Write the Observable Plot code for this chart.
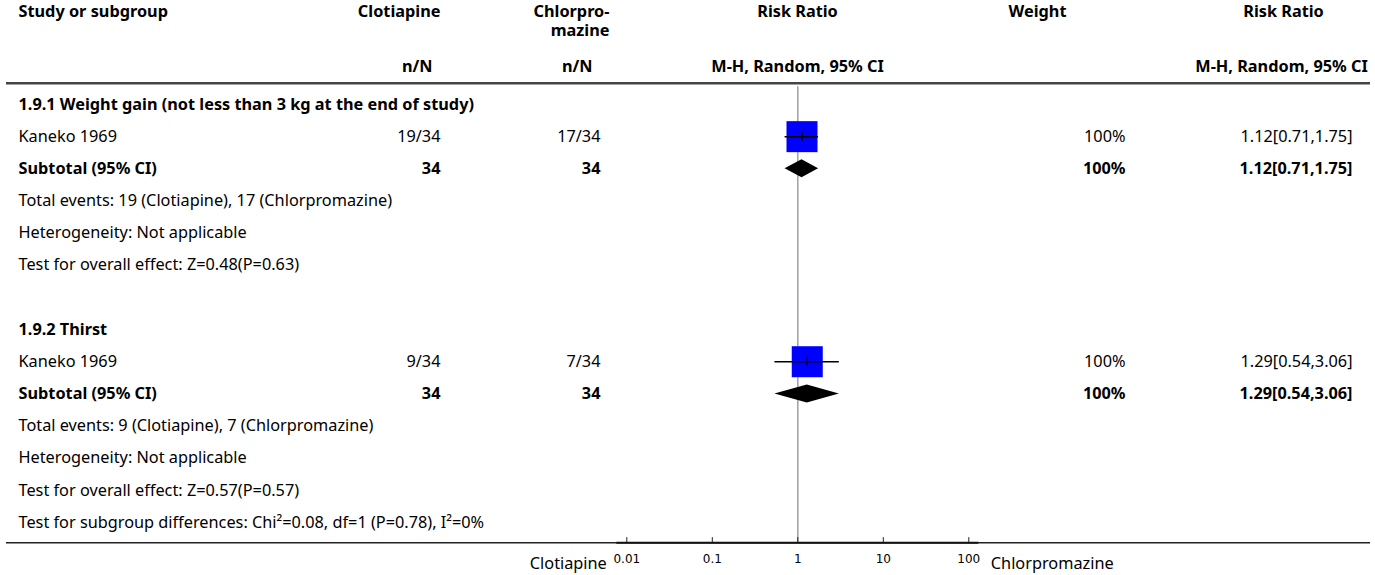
<!DOCTYPE html>
<html><head><meta charset="utf-8">
<script src="https://cdn.jsdelivr.net/npm/d3@7"></script>
<script src="https://cdn.jsdelivr.net/npm/@observablehq/plot@0.6"></script>
<style>
html,body{margin:0;padding:0;background:#fff;}
#chart{position:relative;width:1375px;height:575px;}
#chart svg{position:absolute;left:0;top:0;background:transparent;}
</style></head><body><div id="chart"></div>
<script>
// ---------- data ----------
const expName = "Clotiapine";
const ctrlName = "Chlorpromazine";
const ctrlHeader = ["Chlorpro-", "mazine"];
const subgroupTitles = ["1.9.1 Weight gain (not less than 3 kg at the end of study)", "1.9.2 Thirst"];
const studyNames = ["Kaneko 1969", "Kaneko 1969"];
const expEvents = [19, 9];
const expTotals = [34, 34];
const ctrlEvents = [17, 7];
const ctrlTotals = [34, 34];
const studyRR = [1.12, 1.29];
const studyLo = [0.71, 0.54];
const studyHi = [1.75, 3.06];
const studyWeight = [100, 100];
const subRR = [1.12, 1.29];
const subLo = [0.71, 0.54];
const subHi = [1.75, 3.06];
const subWeight = [100, 100];
const heterogeneity = ["Not applicable", "Not applicable"];
const overallZ = ["0.48", "0.57"];
const overallP = ["0.63", "0.57"];
const subgroupTest = "Test for subgroup differences: Chi\u00B2=0.08, df=1 (P=0.78), I\u00B2=0%";
const axisTicks = [0.01, 0.1, 1, 10, 100];

// ---------- layout ----------
const W = 1375, H = 575;
const FONT = "'Noto Sans', sans-serif";
const FS = 16.3;
const colX = {study: 18, exp: 440, ctrl: 600, weight: 1125, rr: 1352};
const L = {title: -2.88, title2: -2.28, sub: -1.16, headerLine: -0.66, ruleTop: -0.55, bottomLine: 13.63, tickLabel: 13.63 + 0.5, sideLabel: 13.63 + 0.64};
const yScale = {domain: [0, 13], range: [104, 522], axis: null};
const xForest = {type: "log", domain: [0.01, 100], range: [626.3, 968.3]};

const fmtRR = (e, l, h) => `${e.toFixed(2)}[${l.toFixed(2)},${h.toFixed(2)}]`;

// ---------- build table rows ----------
const cells = [];
const studies = [];
const diamonds = [];
let r = 0;
subgroupTitles.forEach((title, g) => {
  if (g > 0) r++; // blank spacer row
  cells.push({row: r, col: "study", text: title, bold: true}); r++;
  cells.push({row: r, col: "study", text: studyNames[g]});
  cells.push({row: r, col: "exp", text: `${expEvents[g]}/${expTotals[g]}`});
  cells.push({row: r, col: "ctrl", text: `${ctrlEvents[g]}/${ctrlTotals[g]}`});
  cells.push({row: r, col: "weight", text: `${studyWeight[g]}%`});
  cells.push({row: r, col: "rr", text: fmtRR(studyRR[g], studyLo[g], studyHi[g])});
  studies.push({row: r, rr: studyRR[g], lo: studyLo[g], hi: studyHi[g], w: studyWeight[g]});
  r++;
  cells.push({row: r, col: "study", text: "Subtotal (95% CI)", bold: true});
  cells.push({row: r, col: "exp", text: `${expTotals[g]}`, bold: true});
  cells.push({row: r, col: "ctrl", text: `${ctrlTotals[g]}`, bold: true});
  cells.push({row: r, col: "weight", text: `${subWeight[g]}%`, bold: true});
  cells.push({row: r, col: "rr", text: fmtRR(subRR[g], subLo[g], subHi[g]), bold: true});
  diamonds.push({g, x: subLo[g], y1: r, y2: r});
  diamonds.push({g, x: subRR[g], y1: r - 0.28, y2: r + 0.28});
  diamonds.push({g, x: subHi[g], y1: r, y2: r});
  r++;
  cells.push({row: r, col: "study", text: `Total events: ${expEvents[g]} (${expName}), ${ctrlEvents[g]} (${ctrlName})`}); r++;
  cells.push({row: r, col: "study", text: `Heterogeneity: ${heterogeneity[g]}`}); r++;
  cells.push({row: r, col: "study", text: `Test for overall effect: Z=${overallZ[g]}(P=${overallP[g]})`}); r++;
});
cells.push({row: r, col: "study", text: subgroupTest});
cells.forEach(c => { c.x = colX[c.col]; c.anchor = c.col === "study" ? "start" : "end"; });

const headers = [
  {x: colX.study, row: L.title, text: "Study or subgroup", anchor: "start"},
  {x: colX.exp, row: L.title, text: expName, anchor: "end"},
  {x: 609, row: L.title, text: ctrlHeader[0], anchor: "end"},
  {x: 609, row: L.title2, text: ctrlHeader[1], anchor: "end"},
  {x: 432, row: L.sub, text: "n/N", anchor: "end"},
  {x: 592, row: L.sub, text: "n/N", anchor: "end"},
  {x: 797, row: L.title, text: "Risk Ratio", anchor: "middle"},
  {x: 797, row: L.sub, text: "M-H, Random, 95% CI", anchor: "middle"},
  {x: 1037, row: L.title, text: "Weight", anchor: "middle"},
  {x: 1283, row: L.title, text: "Risk Ratio", anchor: "middle"},
  {x: 1281, row: L.sub, text: "M-H, Random, 95% CI", anchor: "middle"}
];

// ---------- table layer ----------
const textMarks = [];
for (const anchor of ["start", "middle", "end"]) {
  for (const bold of [false, true]) {
    const data = cells.filter(d => d.anchor === anchor && !!d.bold === bold);
    if (data.length) textMarks.push(Plot.text(data, {x: "x", y: "row", text: "text", textAnchor: anchor, fontWeight: bold ? "bold" : "normal", fontFamily: FONT, fontSize: FS, fill: "#000"}));
  }
  const hd = headers.filter(d => d.anchor === anchor);
  if (hd.length) textMarks.push(Plot.text(hd, {x: "x", y: "row", text: "text", textAnchor: anchor, fontWeight: "bold", fontFamily: FONT, fontSize: FS, fill: "#000"}));
}

const table = Plot.plot({
  width: W, height: H, margin: 0,
  x: {domain: [0, W], range: [0, W], axis: null},
  y: yScale,
  style: {background: "transparent", overflow: "visible"},
  marks: [
    Plot.ruleY([L.headerLine], {x1: 6, x2: 1370, stroke: "#444", strokeWidth: 2.5}),
    Plot.ruleY([L.bottomLine], {x1: 6, x2: 1370, stroke: "#222", strokeWidth: 1.5}),
    ...textMarks
  ]
});

// ---------- forest layer ----------
const forest = Plot.plot({
  width: W, height: H,
  marginTop: 0, marginLeft: 0, marginRight: 0, marginBottom: 33,
  x: {...xForest, axis: null},
  y: yScale,
  r: {domain: [0, 100], range: [0, 17.5]},
  style: {background: "transparent", overflow: "visible"},
  marks: [
    Plot.ruleX([1], {x: d => d, y1: L.ruleTop, y2: L.bottomLine, stroke: "#a0a0a0", strokeWidth: 1.5}),
    Plot.ruleY([L.bottomLine], {x1: axisTicks[0], x2: axisTicks[axisTicks.length - 1], insetLeft: -10, insetRight: -10, stroke: "#111", strokeWidth: 2}),
    Plot.ruleX(axisTicks, {x: d => d, y1: L.bottomLine - 0.16, y2: L.bottomLine, stroke: "#222", strokeWidth: 1}),
    Plot.text(axisTicks, {x: d => d, y: L.tickLabel, text: d => String(d), textAnchor: "middle", fontFamily: "'DejaVu Sans', sans-serif", fontSize: 12, fill: "#000"}),
    Plot.dot(studies, {x: "rr", y: "row", r: "w", symbol: "square", fill: "#0000ff", stroke: null}),
    Plot.ruleY(studies, {x1: "lo", x2: "hi", y: "row", stroke: "#000", strokeWidth: 1.5}),
    Plot.ruleX(studies, {x: "rr", y1: d => d.row - 0.15, y2: d => d.row + 0.15, stroke: "#000", strokeWidth: 1.5}),
    Plot.areaY(diamonds, {x: "x", y1: "y1", y2: "y2", z: "g", fill: "#000"}),
    Plot.text([expName], {x: axisTicks[0], y: L.sideLabel, text: d => d, textAnchor: "end", dx: -20, fontFamily: FONT, fontSize: FS, fill: "#000"}),
    Plot.text([ctrlName], {x: axisTicks[axisTicks.length - 1], y: L.sideLabel, text: d => d, textAnchor: "start", dx: 22, fontFamily: FONT, fontSize: FS, fill: "#000"})
  ]
});

const el = document.getElementById("chart");
el.appendChild(table);
el.appendChild(forest);
</script></body></html>
